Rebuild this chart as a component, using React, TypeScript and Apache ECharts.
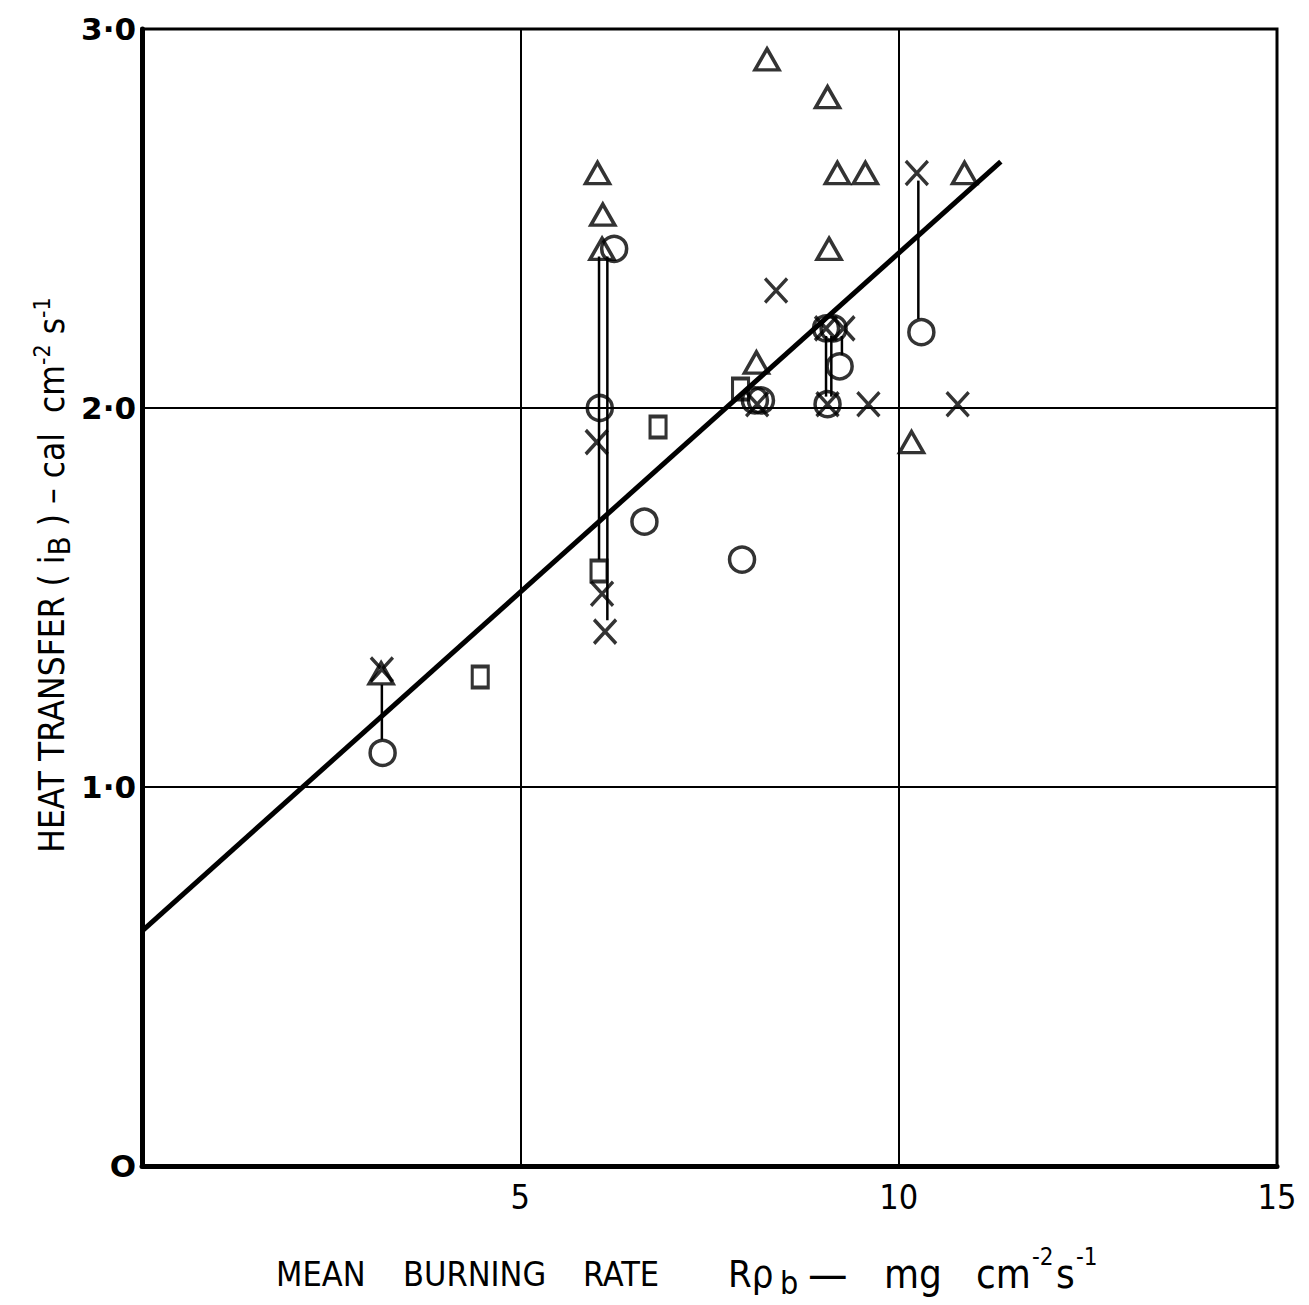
import React, { useEffect, useRef } from "react";
import * as echarts from "echarts";

// Triangles (Δ)
const triangleX = [8.26, 9.06, 6.02, 6.09, 6.08, 9.19, 9.56, 10.87, 9.08, 8.12, 10.17, 3.16];
const triangleY = [2.92, 2.82, 2.62, 2.51, 2.42, 2.62, 2.62, 2.62, 2.42, 2.12, 1.91, 1.30];

// Circles (○)
const circleX = [6.24, 6.05, 6.64, 7.93, 3.18, 10.30, 9.22, 9.04, 9.14, 9.06, 8.10, 8.18];
const circleY = [2.42, 2.00, 1.70, 1.60, 1.09, 2.20, 2.11, 2.21, 2.21, 2.01, 2.02, 2.02];

// Crosses (×)
const crossX = [6.01, 6.08, 6.12, 8.38, 10.24, 9.60, 10.78, 9.27, 9.04, 9.06, 8.13, 3.17];
const crossY = [1.91, 1.51, 1.41, 2.31, 2.62, 2.01, 2.01, 2.21, 2.21, 2.01, 2.01, 1.31];

// Squares (□)
const squareX = [6.04, 6.82, 4.47, 7.91];
const squareY = [1.57, 1.95, 1.29, 2.05];

// Vertical connecting bars: x, from y, to y
const barX = [3.17, 6.04, 6.15, 10.26, 9.04, 9.11, 9.25];
const barFrom = [1.27, 2.40, 2.40, 2.60, 2.19, 2.19, 2.19];
const barTo = [1.125, 1.60, 1.44, 2.235, 2.03, 2.03, 2.14];

// Fitted line end points
const fitX = [0, 11.35];
const fitY = [0.62, 2.65];

// Axis ticks
const xTicks = [0, 5, 10, 15];
const yTicks = [0, 1, 2, 3];

const zip = (a: number[], b: number[]) => a.map((v, i) => [v, b[i]]);

const NARROW = "'DejaVu Sans Condensed', 'Liberation Sans Narrow', 'Liberation Sans', sans-serif";

const txt = (text: string, x: number, y: number, size: number) => ({
  type: "text",
  x,
  y,
  style: {
    text,
    fill: "#000",
    font: `${size}px ${NARROW}`,
    align: "left",
    verticalAlign: "middle",
  },
});

export default function App() {
  const ref = useRef<HTMLDivElement>(null);
  useEffect(() => {
    if (!ref.current) return;
    const chart = echarts.init(ref.current, undefined, { renderer: "svg" });
    const markerStyle = { color: "transparent", borderColor: "#000", borderWidth: 3.5 };
    const yName = 1274;
    chart.setOption({
      animation: false,
      backgroundColor: "#fff",
      grid: {
        left: 142,
        top: 29,
        right: 32,
        bottom: 139,
        show: true,
        borderColor: "#000",
        borderWidth: 3,
        backgroundColor: "transparent",
      },
      xAxis: {
        type: "value",
        min: xTicks[0],
        max: xTicks[xTicks.length - 1],
        interval: 5,
        axisLine: { show: true, lineStyle: { color: "#000", width: 5 } },
        axisTick: { show: false },
        splitLine: { show: true, lineStyle: { color: "#000", width: 2 } },
        axisLabel: {
          margin: 14,
          color: "#000",
          fontSize: 34,
          fontFamily: NARROW,
          formatter: (v: number) => (v === 0 ? "" : String(v)),
        },
      },
      yAxis: {
        type: "value",
        min: yTicks[0],
        max: yTicks[yTicks.length - 1],
        interval: 1,
        axisLine: { show: true, lineStyle: { color: "#000", width: 5 } },
        axisTick: { show: false },
        splitLine: { show: true, lineStyle: { color: "#000", width: 2 } },
        axisLabel: {
          margin: 6,
          color: "#000",
          fontSize: 31,
          fontWeight: "bold",
          fontFamily: "DejaVu Sans, sans-serif",
          formatter: (v: number) => (v === 0 ? "O" : v.toFixed(1).replace(".", "·")),
        },
      },
      series: [
        {
          type: "custom",
          data: barX.map((x, i) => [x, barFrom[i], barTo[i]]),
          encode: { x: 0, y: [1, 2] },
          renderItem: (_p: any, api: any) => {
            const a = api.coord([api.value(0), api.value(1)]);
            const b = api.coord([api.value(0), api.value(2)]);
            return {
              type: "line",
              shape: { x1: a[0], y1: a[1], x2: b[0], y2: b[1] },
              style: { stroke: "#000", lineWidth: 2.5 },
            };
          },
          z: 3,
        },
        {
          type: "line",
          data: zip(fitX, fitY),
          symbol: "none",
          lineStyle: { color: "#000", width: 5 },
          z: 4,
        },
        {
          type: "scatter",
          data: zip(triangleX, triangleY),
          symbol: "triangle",
          symbolSize: [24, 21],
          itemStyle: markerStyle,
          z: 5,
        },
        {
          type: "scatter",
          data: zip(circleX, circleY),
          symbol: "circle",
          symbolSize: 25,
          itemStyle: markerStyle,
          z: 5,
        },
        {
          type: "scatter",
          data: zip(crossX, crossY),
          symbol: "path://M0 0L10 10M10 0L0 10",
          symbolSize: [22, 24],
          itemStyle: { color: "none", borderColor: "#000", borderWidth: 3.5 },
          z: 5,
        },
        {
          type: "scatter",
          data: zip(squareX, squareY),
          symbol: "rect",
          symbolSize: [16, 21],
          itemStyle: markerStyle,
          z: 5,
        },
      ],
      graphic: [
        txt("MEAN", 276, yName, 34),
        txt("BURNING", 403, yName, 34),
        txt("RATE", 583, yName, 34),
        txt("Rρ", 728, yName, 38),
        txt("b", 780, yName + 9, 32),
        txt("—", 808, yName, 44),
        txt("mg", 884, yName, 40),
        txt("cm", 976, yName, 40),
        txt("-2", 1032, yName - 17, 24),
        txt("s", 1056, yName, 40),
        txt("-1", 1076, yName - 17, 24),
        {
          type: "text",
          x: 52,
          y: 575,
          rotation: Math.PI / 2,
          style: {
            text: "HEAT TRANSFER ( i{sub|B} ) – cal  cm{sup|-2} s{sup|-1}",
            fill: "#000",
            font: "35px " + NARROW,
            align: "center",
            verticalAlign: "middle",
            rich: {
              sub: { fontSize: 31, padding: [14, 0, 0, 0], fontFamily: NARROW },
              sup: { fontSize: 23, padding: [0, 0, 20, 0], fontFamily: NARROW },
            },
          },
        },
      ],
    });
    return () => chart.dispose();
  }, []);
  return (
    <div
      ref={ref}
      style={{ position: "absolute", left: 0, top: 0, width: 1309, height: 1305 }}
    />
  );
}
